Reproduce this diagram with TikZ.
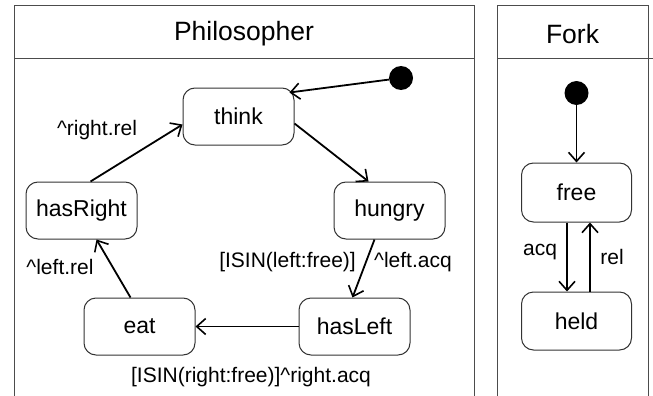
\documentclass[tikz,border=0pt]{standalone}
\usepackage{fontspec}
\setmainfont{Liberation Sans}
\usetikzlibrary{arrows.meta}
\begin{document}
\begin{tikzpicture}[x=1pt,y=-1pt,
  frame/.style={draw=black!70,line width=1pt},
  state/.style={draw=black!80,line width=1pt,rounded corners=12pt,minimum width=111pt,minimum height=57pt,inner sep=0pt,font=\fontsize{23}{27}\selectfont},
  title/.style={font=\fontsize{26.5}{30}\selectfont},
  lbl/.style={font=\fontsize{21}{25}\selectfont,inner sep=0pt},
  dot/.style={fill=black,circle,minimum size=24pt,inner sep=0pt},
  conn/.style={line width=1.8pt,-{Straight Barb[length=9pt,width=16pt,line width=1.6pt]}}
]
\useasboundingbox (0,0) rectangle (653,396);
\clip (0,0) rectangle (653,396);
% frames
\draw[frame] (14,420) -- (14,6) -- (474,6) -- (474,420);
\draw[frame] (14,59) -- (474,59);
\node[title] (ptitle) at (244,34) {Philosopher};
\draw[frame] (497,420) -- (497,6) -- (648,6) -- (648,420);
\draw[frame] (497,59) -- (653,59);
\node[title] (ftitle) at (572.5,34) {Fork};
% Philosopher states
\node[state] (think) at (238.5,116.5) {think};
\node[state] (hungry) at (389.5,210.5) {hungry};
\node[state] (hasRight) at (81.5,210.5) {hasRight};
\node[state] (eat) at (139.5,326.5) {eat};
\node[state] (hasLeft) at (354.5,326.5) {hasLeft};
\node[dot] (pinit) at (401,78) {};
% Fork states
\node[state,minimum width=110pt,minimum height=59pt] (free) at (576.5,192.5) {free};
\node[state,minimum width=110pt,minimum height=58pt] (held) at (576.5,321) {held};
\node[dot] (finit) at (576.5,93) {};
% connectors
\draw[conn] (pinit) -- ([xshift=-5pt,yshift=-5pt]think.north east);
\draw[conn] ([yshift=-7pt]think.east) -- ([xshift=-21pt]hungry.north);
\draw[conn] ([xshift=-15pt]hungry.south) -- ([xshift=-2pt]hasLeft.north);
\draw[conn] (hasLeft.west) -- (eat.east);
\draw[conn] ([xshift=-9pt]eat.north) -- ([xshift=15pt]hasRight.south);
\draw[conn] ([xshift=9pt]hasRight.north) -- ([yshift=-8pt]think.west);
\draw[conn] (finit) -- (free.north);
\draw[conn] ([xshift=-9.5pt]free.south) -- ([xshift=-9.5pt]held.north);
\draw[conn] ([xshift=13.5pt]held.north) -- ([xshift=13.5pt]free.south);
% labels
\node[lbl] (l1) at (97,130) {\textasciicircum right.rel};
\node[lbl,anchor=east] (l2) at (356,262) {[ISIN(left:free)]};
\node[lbl,anchor=west] (l3) at (374,262) {\textasciicircum left.acq};
\node[lbl] (l4) at (60,267) {\textasciicircum left.rel};
\node[lbl] (l5) at (251,377) {[ISIN(right:free)]\textasciicircum right.acq};
\node[lbl] (l6) at (540,252) {acq};
\node[lbl] (l7) at (612,257) {rel};
\end{tikzpicture}
\end{document}
